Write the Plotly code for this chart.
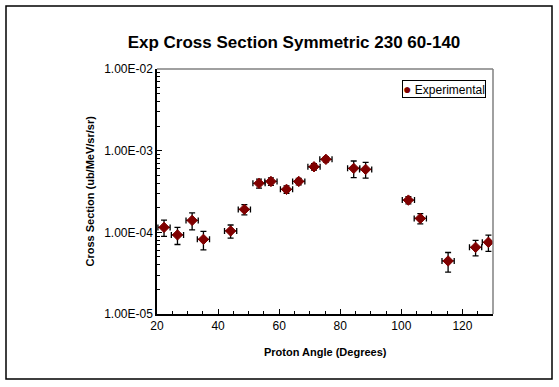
import plotly.graph_objects as go

angle = [22.3, 26.7, 31.5, 35.2, 44.1, 48.6, 53.4, 57.3, 62.4, 66.4,
         71.4, 75.3, 84.4, 88.3, 102.3, 106.2, 115.3, 124.3, 128.5]
xs = [1.15e-4, 9.3e-5, 1.40e-4, 8.2e-5, 1.04e-4, 1.91e-4, 3.98e-4, 4.2e-4, 3.36e-4, 4.2e-4,
      6.35e-4, 7.83e-4, 6.07e-4, 5.9e-4, 2.48e-4, 1.48e-4, 4.46e-5, 6.55e-5, 7.55e-5]
xs_err = [2.6e-5, 2.2e-5, 3.3e-5, 2.1e-5, 1.9e-5, 2.7e-5, 5.0e-5, 4.5e-5, 3.5e-5, 3.8e-5,
          5.8e-5, 6.0e-5, 1.4e-4, 1.3e-4, 2.5e-5, 2.1e-5, 1.2e-5, 1.4e-5, 1.7e-5]
angle_err = [2.0] * len(angle)

ytick_vals = [1e-5, 1e-4, 1e-3, 1e-2]
ytick_text = ["1.00E-05", "1.00E-04", "1.00E-03", "1.00E-02"]

FONT = "Liberation Sans, Arial, sans-serif"

fig = go.Figure()
fig.add_trace(go.Scatter(
    x=angle, y=xs, mode="markers", name="Experimental", showlegend=False,
    marker=dict(symbol="diamond", size=8, color="#800000",
                line=dict(color="#800000", width=1)),
    error_y=dict(type="data", array=xs_err, color="black", thickness=1.3, width=3),
    error_x=dict(type="data", array=angle_err, color="black", thickness=1.3, width=3),
))

L, R, T, B = 157, 66, 69, 73
W, H = 559, 387
pw, ph = W - L - R, H - T - B


def px(xp):
    return (xp - L) / pw


def py(yp):
    return (H - B - yp) / ph


fig.update_layout(
    width=W, height=H,
    margin=dict(l=L, r=R, t=T, b=B),
    paper_bgcolor="white", plot_bgcolor="white",
    font=dict(family=FONT, size=11, color="black"),
    showlegend=False,
    title=dict(text="<b>Exp Cross Section Symmetric 230 60-140</b>",
               x=294 / W, xanchor="center", y=1 - 42 / H, yanchor="middle",
               font=dict(size=17, family=FONT)),
    xaxis=dict(range=[20, 130], dtick=20, tick0=20,
               showline=True, linecolor="black", linewidth=1.5,
               ticks="inside", ticklen=5, tickcolor="black",
               showgrid=False, zeroline=False,
               minor=dict(dtick=5, ticks="inside", ticklen=3, tickcolor="black"),
               tickfont=dict(size=12)),
    yaxis=dict(type="log", range=[-5, -2],
               tickvals=ytick_vals, ticktext=ytick_text,
               showline=True, linecolor="black", linewidth=1.5,
               ticks="inside", ticklen=5, tickcolor="black",
               showgrid=False, zeroline=False,
               minor=dict(ticks="inside", ticklen=3, tickcolor="black", dtick="D1"),
               tickfont=dict(size=12)),
    annotations=[
        dict(text="<b>Proton Angle (Degrees)</b>", xref="paper", yref="paper",
             x=0.5, y=py(352), xanchor="center", yanchor="middle",
             showarrow=False, font=dict(size=11)),
        dict(text="<b>Cross Section (ub/MeV/sr/sr)</b>", xref="paper", yref="paper",
             x=px(89), y=0.5, xanchor="center", yanchor="middle", textangle=-90,
             showarrow=False, font=dict(size=11)),
        dict(text="<span style='color:#800000;font-size:14px'>\u25cf</span> Experimental",
             xref="paper", yref="paper", x=px(444), y=py(89),
             xanchor="center", yanchor="middle", showarrow=False,
             font=dict(size=12), bordercolor="black", borderwidth=1,
             borderpad=0, bgcolor="white"),
    ],
    shapes=[
        dict(type="line", xref="paper", yref="paper", x0=0, x1=1, y0=1, y1=1,
             line=dict(color="#808080", width=1.5)),
        dict(type="line", xref="paper", yref="paper", x0=1, x1=1, y0=0, y1=1,
             line=dict(color="#808080", width=1.5)),
        dict(type="rect", xref="paper", yref="paper",
             x0=px(6), x1=px(552), y0=py(379), y1=py(6),
             line=dict(color="black", width=1.5), layer="below"),
    ],
)

fig.write_html("out.html", config={"displayModeBar": False},
               post_script="document.body.style.margin='0';document.body.style.padding='0';")
